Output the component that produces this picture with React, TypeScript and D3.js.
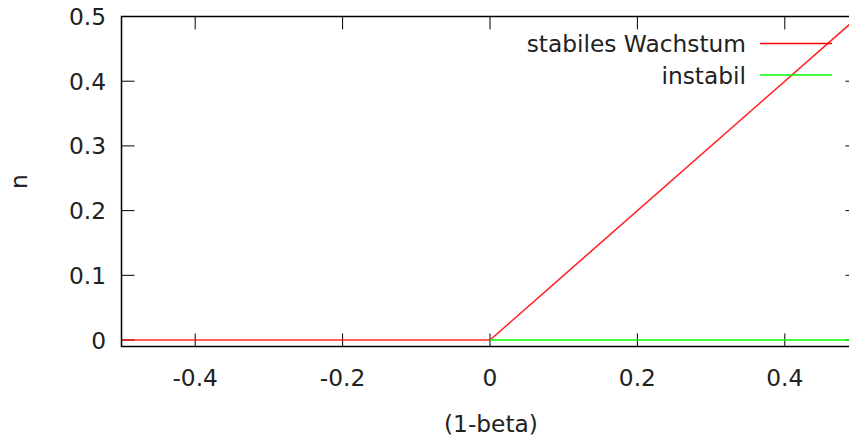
import React from "react";
import * as d3 from "d3";

const stableX = [-0.5, 0, 0.5];
const stableN = [0, 0, 0.5];
const unstableX = [0, 0.5];
const unstableN = [0, 0];
const xTicks = [-0.4, -0.2, 0, 0.2, 0.4];
const yTicks = [0, 0.1, 0.2, 0.3, 0.4, 0.5];
const seriesNames = ["stabiles Wachstum", "instabil"];
const seriesColors = ["#ff0000", "#00ff00"];

const W = 849, H = 437;
const left = 121.5, right = 858.5, top = 16.5, bottom = 346.5;
const FONT = "'DejaVu Sans', sans-serif";
const FS = 23.3;

export default function App() {
  const x = d3.scaleLinear().domain([-0.5, 0.5]).range([left, right]);
  const y = d3.scaleLinear().domain([-0.01, 0.5]).range([bottom, top]);
  const line = d3.line<[number, number]>().x(d => x(d[0])).y(d => y(d[1]));
  const stable: [number, number][] = stableX.map((v, i) => [v, stableN[i]]);
  const unstable: [number, number][] = unstableX.map((v, i) => [v, unstableN[i]]);
  const fmt = (v: number) => (Math.abs(v) < 1e-9 ? "0" : String(+v.toFixed(1)));
  const tick = 13;
  return (
    <svg width={W} height={H} style={{ position: "absolute", left: 0, top: 0, background: "#fff" }} fontFamily={FONT}>
      <defs>
        <clipPath id="plot">
          <rect x={left} y={top} width={right - left} height={bottom - top} />
        </clipPath>
      </defs>
      <rect x={0} y={0} width={W} height={H} fill="#fff" />
      {yTicks.map(t => (
        <g key={"y" + t}>
          <line x1={left} x2={left + tick} y1={y(t)} y2={y(t)} stroke="#000" strokeWidth={1} />
          <line x1={right} x2={right - tick} y1={y(t)} y2={y(t)} stroke="#000" strokeWidth={1} />
          <text x={106} y={y(t)} fontSize={FS} textAnchor="end" dominantBaseline="central" fill="#222">{fmt(t)}</text>
        </g>
      ))}
      {xTicks.map(t => (
        <g key={"x" + t}>
          <line x1={x(t)} x2={x(t)} y1={bottom} y2={bottom - tick} stroke="#000" strokeWidth={1} />
          <line x1={x(t)} x2={x(t)} y1={top} y2={top + tick} stroke="#000" strokeWidth={1} />
          <text x={x(t)} y={377} fontSize={FS} textAnchor="middle" dominantBaseline="central" fill="#222">{fmt(t)}</text>
        </g>
      ))}
      <g clipPath="url(#plot)">
        <path d={line(stable) || ""} fill="none" stroke={seriesColors[0]} strokeWidth={1.6} strokeOpacity={0.85} />
        <path d={line(unstable) || ""} fill="none" stroke={seriesColors[1]} strokeWidth={1.6} />
      </g>
      <rect x={left} y={top} width={right - left} height={bottom - top} fill="none" stroke="#000" strokeWidth={1.5} />
      {seriesNames.map((name, i) => {
        const ly = 43.5 + i * 31.5;
        return (
          <g key={name}>
            <text x={746} y={ly} fontSize={FS} textAnchor="end" dominantBaseline="central" fill="#222">{name}</text>
            <line x1={760} x2={832} y1={ly} y2={ly} stroke={seriesColors[i]} strokeWidth={1.6} />
          </g>
        );
      })}
      <text x={491} y={423} fontSize={FS} textAnchor="middle" dominantBaseline="central" fill="#222">(1-beta)</text>
      <text transform={`translate(18,${(top + bottom) / 2}) rotate(-90)`} fontSize={FS} textAnchor="middle" dominantBaseline="central" fill="#222">n</text>
    </svg>
  );
}
